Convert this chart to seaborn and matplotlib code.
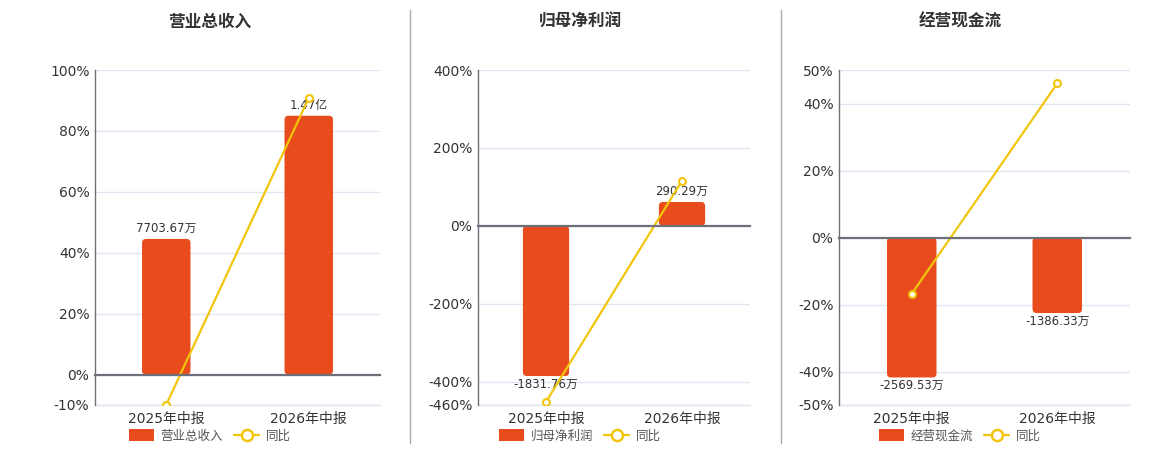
import numpy as np
import pandas as pd
import matplotlib
matplotlib.use("Agg")
import matplotlib.pyplot as plt
import matplotlib.patches as mpatches
from matplotlib.lines import Line2D
import seaborn as sns

# --- dati ---
periods = ["2025年中报", "2026年中报"]
titles = ["营业总收入", "归母净利润", "经营现金流"]

# valori in 万
revenue = [7703.67, 14700.0]
profit = [-1831.76, 290.29]
cashflow = [-2569.53, -1386.33]

# variazione anno su anno (%)
revenue_yoy = [-9.9, 90.8]
profit_yoy = [-452.0, 115.8]
cashflow_yoy = [-16.8, 46.0]

ticks_revenue = [-10, 0, 20, 40, 60, 80, 100]
ticks_profit = [-460, -400, -200, 0, 200, 400]
ticks_cashflow = [-50, -40, -20, 0, 20, 40, 50]

BAR = "#E84B1C"
LINE = "#F2C50C"
AXIS = "#6E7079"
GRID = "#E0E6F1"
TXT = "#333333"

W, H = 1160, 450

sns.set_style("white")
plt.rcParams["font.family"] = ["DejaVu Sans", "Noto Sans CJK SC"]
plt.rcParams["axes.unicode_minus"] = False


def fmt(v):
    if abs(v) >= 10000:
        return f"{v / 10000:.2f}亿"
    return f"{v:.2f}万"


panels = [
    (titles[0], revenue, revenue_yoy, ticks_revenue, 173.0, (95, 380), 210),
    (titles[1], profit, profit_yoy, ticks_profit, 4.75, (478, 750), 580),
    (titles[2], cashflow, cashflow_yoy, ticks_cashflow, 61.5, (839, 1130), 960),
]

fig = plt.figure(figsize=(W / 100, H / 100), dpi=100)

for name, vals, yoy, ticks, k, (l, r), cx in panels:
    ax = fig.add_axes([l / W, 1 - 405 / H, (r - l) / W, 335 / H])
    axb = ax.twinx()
    axl = ax.twinx()

    lo, hi = min(ticks), max(ticks)

    # barre (asse nascosto, stesso zero)
    sns.barplot(x=periods, y=vals, color=BAR, saturation=1, width=0.34,
                errorbar=None, ax=axb)
    axb.set_ylim(lo * k, hi * k)
    axb.set_xlim(-0.5, 1.5)

    # angoli arrotondati
    x_per_px = 2.0 / (r - l)
    y_per_px = (hi - lo) * k / 335.0
    for p in list(axb.patches):
        x0, y0, w, h = p.get_x(), p.get_y(), p.get_width(), p.get_height()
        yb = min(y0, y0 + h)
        p.remove()
        axb.add_patch(mpatches.FancyBboxPatch(
            (x0, yb), w, abs(h),
            boxstyle=mpatches.BoxStyle.Round(pad=0, rounding_size=4 * x_per_px),
            mutation_aspect=y_per_px / x_per_px,
            facecolor=BAR, edgecolor="none"))

    for i, v in enumerate(vals):
        if v >= 0:
            axb.annotate(fmt(v), (i, v), xytext=(0, 3), textcoords="offset points",
                         ha="center", va="bottom", fontsize=8.5, color=TXT)
        else:
            axb.annotate(fmt(v), (i, v), xytext=(0, -1), textcoords="offset points",
                         ha="center", va="top", fontsize=8.5, color=TXT)

    # linea 同比
    sns.lineplot(x=[0, 1], y=yoy, ax=axl, color=LINE, lw=1.6, marker="o",
                 markersize=5, markerfacecolor="white", markeredgecolor=LINE,
                 markeredgewidth=1.5)
    axl.set_ylim(lo, hi)
    axl.set_xlim(-0.5, 1.5)

    # asse percentuale
    ax.set_ylim(lo, hi)
    ax.set_xlim(-0.5, 1.5)
    ax.set_yticks(ticks)
    ax.set_yticklabels([f"{t}%" for t in ticks])
    ax.yaxis.grid(True, color=GRID, lw=1)
    ax.axhline(lo, color=GRID, lw=1, clip_on=False, zorder=0)
    ax.set_axisbelow(True)
    ax.set_xticks([0, 1])
    ax.set_xticklabels(periods)
    ax.set_xticks([-0.5, 0.5, 1.5], minor=True)
    ax.tick_params(axis="y", length=0, pad=4, labelsize=10, labelcolor=TXT)
    ax.tick_params(axis="x", which="major", length=0, pad=5, labelsize=10, labelcolor=TXT)
    ax.tick_params(axis="x", which="minor", length=0)
    for s in ["top", "right", "bottom"]:
        ax.spines[s].set_visible(False)
    ax.spines["left"].set_color(AXIS)
    ax.spines["left"].set_linewidth(1)
    ax.set_xlabel("")
    ax.set_ylabel("")

    for a in (axb, axl):
        a.set_xlabel("")
        a.set_ylabel("")
        a.tick_params(axis="y", which="both", length=0, labelright=False, labelleft=False)
        for s in ["top", "right", "left", "bottom"]:
            a.spines[s].set_visible(False)
    axb.tick_params(axis="x", which="both", length=0, labelbottom=False)

    # linea dello zero con tacche
    axl.xaxis.set_visible(True)
    axl.spines["bottom"].set_visible(True)
    axl.spines["bottom"].set_position(("data", 0))
    axl.spines["bottom"].set_color(AXIS)
    axl.spines["bottom"].set_linewidth(1.6)
    axl.tick_params(axis="x", which="major", length=0, labelbottom=False)
    axl.tick_params(axis="x", which="minor", length=5, width=1, color=AXIS,
                    direction="out", labelbottom=False)

    # titolo e legenda
    fig.text(cx / W, 1 - 22 / H, name, ha="center", va="center",
             fontsize=12, fontweight="bold", color=TXT)
    handles = [
        mpatches.FancyBboxPatch((0, 0), 1, 1, boxstyle="round,pad=0,rounding_size=0.2",
                                facecolor=BAR, edgecolor="none", label=name),
        Line2D([], [], color=LINE, lw=1.6, marker="o", markersize=8,
               markerfacecolor="white", markeredgecolor=LINE,
               markeredgewidth=1.8, label="同比"),
    ]
    fig.legend(handles=handles, loc="center", bbox_to_anchor=(cx / W, 1 - 436 / H),
               ncol=2, frameon=False, fontsize=9, handlelength=2.0,
               handleheight=1.1, columnspacing=0.9, handletextpad=0.5,
               labelcolor="#555555")

# separatori verticali
for xs in (410, 781):
    fig.add_artist(Line2D([xs / W, xs / W], [1 - 10 / H, 1 - 443 / H],
                          color="#AAAAAA", lw=1))

plt.savefig("out.png", dpi=100)
